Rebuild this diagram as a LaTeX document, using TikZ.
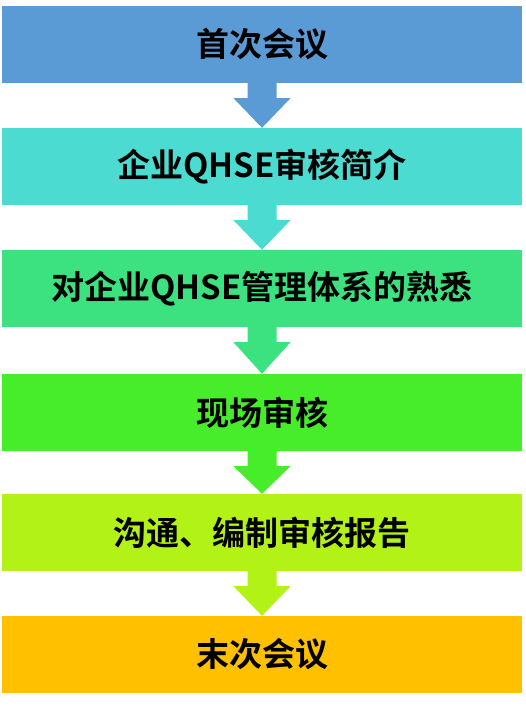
\documentclass[tikz,border=0pt]{standalone}
\usepackage{fontspec}
\newfontfamily\cjkbold{Noto Sans CJK SC Bold}
\usepackage{tikz}
\usetikzlibrary{calc}
\definecolor{stepA}{HTML}{5B9BD5}
\definecolor{stepB}{HTML}{4CDBD1}
\definecolor{stepC}{HTML}{3BE27F}
\definecolor{stepD}{HTML}{47EC2B}
\definecolor{stepE}{HTML}{B3F217}
\definecolor{stepF}{HTML}{FFC000}

\begin{document}
\begin{tikzpicture}[x=1pt,y=-1pt,
  stepbox/.style={minimum width=520pt,minimum height=77pt,inner sep=0pt,
    font=\cjkbold\fontsize{33}{38}\selectfont,text=black}]
  \useasboundingbox[fill=white] (0,0) rectangle (525,712);

  \node[stepbox,fill=stepA] (meet1) at (262,44.5) {首次会议};
  \node[stepbox,fill=stepB] (intro) at (262,166.5) {企业QHSE审核简介};
  \node[stepbox,fill=stepC] (system) at (262,288.5) {对企业QHSE管理体系的熟悉};
  \node[stepbox,fill=stepD] (site) at (262,412.5) {现场审核};
  \node[stepbox,fill=stepE] (report) at (262,532.5) {沟通、编制审核报告};
  \node[stepbox,fill=stepF] (meet2) at (262,654.5) {末次会议};

  % block arrows between the steps
  \fill[stepA] ($(meet1.south)+(-14.5,0)$) -- ($(meet1.south)+(14.5,0)$) -- ($(meet1.south)+(14.5,15)$) -- ($(meet1.south)+(28.5,15)$) -- (intro.north) -- ($(meet1.south)+(-28.5,15)$) -- ($(meet1.south)+(-14.5,15)$) -- cycle;
  \fill[stepB] ($(intro.south)+(-14.5,0)$) -- ($(intro.south)+(14.5,0)$) -- ($(intro.south)+(14.5,15)$) -- ($(intro.south)+(28.5,15)$) -- (system.north) -- ($(intro.south)+(-28.5,15)$) -- ($(intro.south)+(-14.5,15)$) -- cycle;
  \fill[stepC] ($(system.south)+(-14.5,0)$) -- ($(system.south)+(14.5,0)$) -- ($(system.south)+(14.5,15)$) -- ($(system.south)+(28.5,15)$) -- (site.north) -- ($(system.south)+(-28.5,15)$) -- ($(system.south)+(-14.5,15)$) -- cycle;
  \fill[stepD] ($(site.south)+(-14.5,0)$) -- ($(site.south)+(14.5,0)$) -- ($(site.south)+(14.5,15)$) -- ($(site.south)+(28.5,15)$) -- (report.north) -- ($(site.south)+(-28.5,15)$) -- ($(site.south)+(-14.5,15)$) -- cycle;
  \fill[stepE] ($(report.south)+(-14.5,0)$) -- ($(report.south)+(14.5,0)$) -- ($(report.south)+(14.5,15)$) -- ($(report.south)+(28.5,15)$) -- (meet2.north) -- ($(report.south)+(-28.5,15)$) -- ($(report.south)+(-14.5,15)$) -- cycle;

\end{tikzpicture}
\end{document}
